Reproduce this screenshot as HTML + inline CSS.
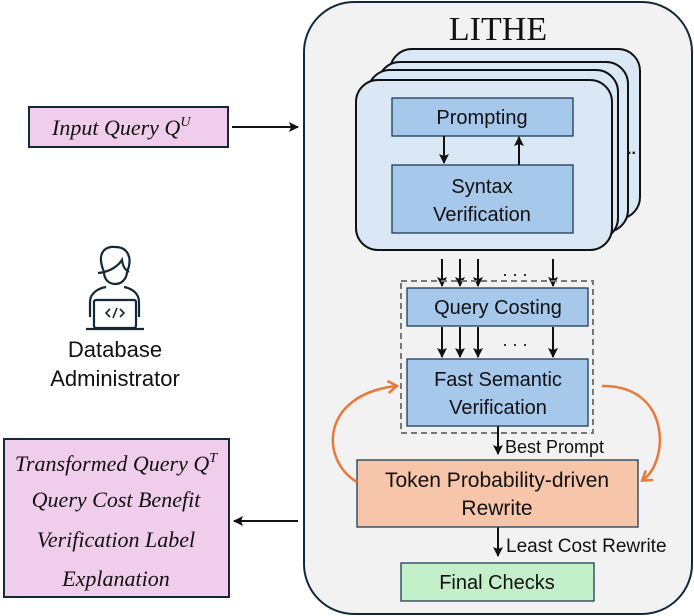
<!DOCTYPE html>
<html><head><meta charset="utf-8"><style>
body{margin:0;background:#fff;}
svg{display:block;}
.s{font-family:"Liberation Sans",sans-serif;fill:#111;}
.r{font-family:"Liberation Serif",serif;font-style:italic;fill:#111;}
</style></head><body>
<svg width="694" height="616" viewBox="0 0 694 616" xmlns="http://www.w3.org/2000/svg">
<defs>
<marker id="a" markerWidth="10" markerHeight="10" refX="9" refY="5" orient="auto" markerUnits="userSpaceOnUse"><path d="M0,0 L10,5 L0,10 L2,5 Z" fill="#111"/></marker>
<marker id="o" markerWidth="14" markerHeight="14" refX="10" refY="7" orient="auto" markerUnits="userSpaceOnUse"><path d="M2,1 L11,7 L2,13" fill="none" stroke="#e8793a" stroke-width="2.5"/></marker>
</defs>
<rect x="304" y="2" width="388" height="612" rx="50" fill="#f2f2f2" stroke="#13293a" stroke-width="2"/>
<text x="498" y="40" text-anchor="middle" font-family="Liberation Serif,serif" font-size="34" fill="#111">LITHE</text>
<g fill="#dae8f5" stroke="#111" stroke-width="2">
<rect x="390" y="49" width="250" height="170" rx="22"/>
<rect x="378" y="62" width="250" height="170" rx="22"/>
<rect x="368" y="70" width="250" height="170" rx="22"/>
<rect x="356" y="80" width="256" height="170" rx="22"/>
</g>
<text x="627" y="154" class="s" font-size="16" font-weight="bold">..</text>
<rect x="392" y="98" width="181" height="38" fill="#a6c8ea" stroke="#1f3b57" stroke-width="1.3"/>
<text x="482" y="124" text-anchor="middle" class="s" font-size="20">Prompting</text>
<rect x="392" y="165" width="181" height="68" fill="#a6c8ea" stroke="#1f3b57" stroke-width="1.3"/>
<text x="482" y="193" text-anchor="middle" class="s" font-size="20">Syntax</text>
<text x="482" y="221" text-anchor="middle" class="s" font-size="20">Verification</text>
<g stroke="#111" stroke-width="2" marker-end="url(#a)">
<line x1="444" y1="136" x2="444" y2="163"/>
<line x1="519" y1="165" x2="519" y2="137"/>
<line x1="442" y1="259" x2="442" y2="286"/>
<line x1="460" y1="259" x2="460" y2="286"/>
<line x1="478" y1="259" x2="478" y2="286"/>
<line x1="553" y1="259" x2="553" y2="286"/>
<line x1="442" y1="327" x2="442" y2="357"/>
<line x1="460" y1="327" x2="460" y2="357"/>
<line x1="478" y1="327" x2="478" y2="357"/>
<line x1="553" y1="327" x2="553" y2="357"/>
<line x1="498" y1="426" x2="498" y2="454"/>
<line x1="498" y1="527" x2="498" y2="556"/>
<line x1="232" y1="127" x2="298" y2="127"/>
<line x1="298" y1="521" x2="234" y2="521"/>
</g>
<text x="515" y="276" text-anchor="middle" class="s" font-size="18">. . .</text>
<text x="515" y="346" text-anchor="middle" class="s" font-size="18">. . .</text>
<rect x="401" y="281" width="192" height="152" fill="none" stroke="#777" stroke-width="2" stroke-dasharray="6,4"/>
<rect x="407" y="288" width="181" height="38" fill="#a6c8ea" stroke="#1f3b57" stroke-width="1.3"/>
<text x="498" y="314" text-anchor="middle" class="s" font-size="20">Query Costing</text>
<rect x="407" y="359" width="181" height="67" fill="#a6c8ea" stroke="#1f3b57" stroke-width="1.3"/>
<text x="498" y="386" text-anchor="middle" class="s" font-size="20">Fast Semantic</text>
<text x="498" y="414" text-anchor="middle" class="s" font-size="20">Verification</text>
<text x="505" y="453" class="s" font-size="18">Best Prompt</text>
<rect x="357" y="460" width="281" height="67" fill="#f7c6aa" stroke="#1f3b57" stroke-width="1.3"/>
<text x="497" y="487" text-anchor="middle" class="s" font-size="21">Token Probability-driven</text>
<text x="497" y="515" text-anchor="middle" class="s" font-size="21">Rewrite</text>
<text x="506" y="552" class="s" font-size="19">Least Cost Rewrite</text>
<rect x="401" y="563" width="193" height="38" fill="#c3f0c8" stroke="#1f3b57" stroke-width="1.3"/>
<text x="497" y="589" text-anchor="middle" class="s" font-size="20">Final Checks</text>
<path d="M357,482 C320,460 320,395 396,386" fill="none" stroke="#e8793a" stroke-width="2.5" marker-end="url(#o)"/>
<path d="M602,386 C670,385 670,460 643,480" fill="none" stroke="#e8793a" stroke-width="2.5" marker-end="url(#o)"/>
<rect x="29" y="107" width="199" height="40" fill="#f0cdea" stroke="#13293a" stroke-width="2"/>
<text x="52" y="135" class="r" font-size="22">Input Query Q<tspan dy="-9" font-size="14">U</tspan></text>
<g fill="none" stroke="#13293a" stroke-width="2.2">
<path d="M104,272 C95,250 108,246 115,247 C128,247 133,258 127,272"/>
<path d="M98,273 C110,272 118,266 122,260 C123,268 126,270 129,272"/>
<path d="M104,272 C104,288 126,288 127,272"/>
<path d="M90,317 L90,302 C90,292 100,288 106,287 M139,317 L139,302 C139,292 130,288 124,287"/>
<rect x="94" y="300" width="42" height="28" rx="2"/>
<line x1="86" y1="329" x2="144" y2="329"/>
<path d="M110,309 L106,313 L110,317 M120,309 L124,313 L120,317 M117,308 L113,318" stroke-width="1.6"/>
</g>
<text x="115" y="357" text-anchor="middle" class="s" font-size="22">Database</text>
<text x="115" y="386" text-anchor="middle" class="s" font-size="22">Administrator</text>
<rect x="4" y="439" width="225" height="158" fill="#f0cdea" stroke="#13293a" stroke-width="2"/>
<text x="116" y="471" text-anchor="middle" class="r" font-size="22">Transformed Query Q<tspan dy="-9" font-size="14">T</tspan></text>
<text x="116" y="507" text-anchor="middle" class="r" font-size="22">Query Cost Benefit</text>
<text x="116" y="547" text-anchor="middle" class="r" font-size="22">Verification Label</text>
<text x="116" y="586" text-anchor="middle" class="r" font-size="22">Explanation</text>
</svg>
</body></html>
